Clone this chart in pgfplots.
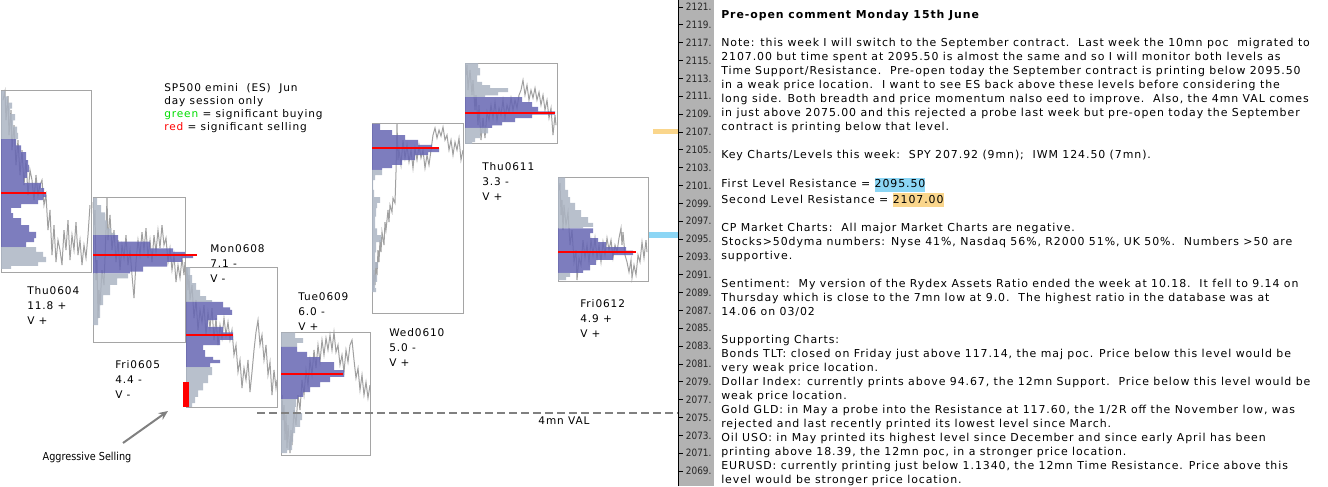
\documentclass[border=0pt]{standalone}
\usepackage{fontspec}
\setmainfont{DejaVu Sans}[LetterSpace=8.5]
\newfontfamily\plainfont{DejaVu Sans}[FakeStretch=0.88]
\usepackage{pgfplots}
\pgfplotsset{compat=1.18}
\usetikzlibrary{arrows.meta}

\definecolor{vablue}{RGB}{102,102,179}
\definecolor{profgray}{RGB}{172,181,195}
\definecolor{tracegray}{RGB}{160,160,160}
\definecolor{boxgray}{RGB}{165,165,165}
\definecolor{stripgray}{RGB}{178,178,178}
\definecolor{lvlorange}{RGB}{250,214,140}
\definecolor{lvlblue}{RGB}{140,214,245}
\definecolor{sigred}{RGB}{255,0,0}
\definecolor{siggreen}{RGB}{0,220,0}
\definecolor{valgray}{RGB}{128,128,128}

\newcommand\txt{\fontsize{8.2}{10.5}\selectfont}
\newcommand\lab{\fontsize{7.9}{11.25}\selectfont}
\newcommand\hl[2]{{\setlength\fboxsep{0pt}\colorbox{#1}{\rule[-2.9pt]{0pt}{10.5pt}#2}}}

\pgfplotsset{
  prof/.style={draw=none, fill=profgray, fill opacity=0.85, const plot mark right, mark=none},
  va/.style={draw=none, fill=vablue, fill opacity=0.85, const plot mark right, mark=none},
  trace/.style={tracegray, line width=0.75pt, mark=none},
  daybox/.style={boxgray, line width=0.75pt, mark=none},
  poc/.style={sigred, line width=1.1pt, mark=none},
}

\begin{document}
\begin{tikzpicture}
\useasboundingbox (0,0) rectangle (996pt,364.5pt);
% price scale strip
\fill[stripgray] (508.5pt,0) rectangle (535.5pt,364.5pt);

\begin{axis}[
  at={(0,0)}, anchor=south west,
  x=0.75pt, y=6.692pt, scale only axis,
  xmin=0, xmax=678, ymin=2067.32, ymax=2121.78,
  enlargelimits=false, clip=false,
  axis x line=none, axis y line*=right,
  axis line style={black, line width=0.75pt},
  xtick=\empty,
  ytick={2069,2071,...,2121},
  minor y tick num=3,
  ytick pos=right, yticklabel pos=right,
  tick align=outside,
  major tick length=3.75pt, minor tick length=2.25pt,
  tick style={black, line width=0.6pt},
  /pgf/number format/assume math mode=true,
  yticklabel={\pgfmathprintnumber[fixed,precision=0,1000 sep={}]{\tick}.},
  yticklabel style={font=\plainfont\fontsize{7.6}{8}\selectfont, text=black!85, anchor=west, inner sep=0pt, xshift=2pt},
]

% day boxes
\addplot[daybox] coordinates {(1,2091.2) (91,2091.2) (91,2111.7) (1,2111.7)} -- cycle;
\addplot[daybox] coordinates {(93,2083.45) (185,2083.45) (185,2099.7) (93,2099.7)} -- cycle;
\addplot[daybox] coordinates {(186,2076.15) (277,2076.15) (277,2091.85) (186,2091.85)} -- cycle;
\addplot[daybox] coordinates {(281,2070.7) (370,2070.7) (370,2084.55) (281,2084.55)} -- cycle;
\addplot[daybox] coordinates {(372,2086.7) (463,2086.7) (463,2107.9) (372,2107.9)} -- cycle;
\addplot[daybox] coordinates {(465,2105.65) (557,2105.65) (557,2114.7) (465,2114.7)} -- cycle;
\addplot[daybox] coordinates {(558,2090.2) (648,2090.2) (648,2101.95) (558,2101.95)} -- cycle;

% price traces
\addplot[trace] coordinates {(3,2110.57) (5,2111.58) (6,2108.33) (8,2111.02) (9,2106.65) (11,2109.45) (12,2104.97) (14,2107.77) (16,2103.29) (18,2106.09) (20,2102.17) (22,2104.97) (24,2101.05) (26,2103.85) (28,2099.93) (30,2102.73) (32,2101.61) (34,2099.37) (36,2102.17) (38,2099.93) (40,2101.05) (42,2101.61) (44,2098.81) (46,2099.93) (48,2096.00) (50,2098.25) (52,2093.20) (54,2096.56) (56,2092.42) (58,2094.88) (60,2093.76) (62,2092.08) (64,2096.00) (66,2093.76) (68,2097.12) (70,2092.64) (72,2095.44) (74,2093.76) (76,2096.90) (78,2093.20) (80,2094.88) (82,2092.08) (84,2094.32) (86,2092.87) (88,2095.44) (90,2098.81)};
\addplot[trace] coordinates {(93,2099.14) (94,2096.56) (95,2098.25) (96,2090.40) (97,2092.64) (98,2086.14) (99,2089.28) (100,2087.60) (102,2091.52) (104,2089.84) (106,2096.00) (107,2099.59) (108,2094.88) (110,2097.69) (112,2093.76) (114,2096.00) (116,2092.42) (118,2094.88) (120,2091.52) (122,2094.32) (124,2092.87) (126,2095.44) (128,2092.08) (130,2093.76) (132,2090.96) (134,2088.38) (136,2092.42) (138,2094.88) (140,2093.20) (142,2095.78) (144,2093.76) (146,2096.23) (148,2092.87) (150,2094.88) (152,2092.42) (154,2095.44) (156,2093.54) (158,2096.00) (160,2093.99) (162,2096.56) (164,2094.32) (166,2095.11) (168,2092.42) (170,2093.99) (172,2091.52) (174,2093.20) (176,2090.18) (178,2092.08) (180,2090.63) (182,2092.87) (184,2090.96) (185,2092.42)};
\addplot[trace] coordinates {(187,2091.75) (188,2089.28) (189,2090.96) (190,2088.16) (192,2089.84) (194,2086.14) (196,2088.16) (198,2084.80) (200,2087.04) (202,2085.69) (204,2087.60) (206,2084.24) (208,2086.81) (210,2085.02) (212,2087.26) (214,2083.68) (216,2086.14) (218,2083.12) (220,2085.36) (222,2083.90) (224,2086.14) (226,2084.24) (228,2085.69) (230,2083.68) (232,2084.80) (234,2082.00) (236,2083.12) (238,2080.09) (240,2081.44) (242,2078.30) (244,2080.54) (246,2079.20) (248,2081.44) (250,2077.85) (252,2080.09) (254,2082.56) (256,2084.57) (258,2085.92) (260,2083.12) (262,2084.24) (264,2081.44) (266,2083.12) (268,2079.76) (270,2081.21) (272,2077.51) (274,2080.32) (276,2078.30) (277,2079.20)};
\addplot[trace] coordinates {(282,2077.51) (283,2074.71) (284,2076.39) (285,2072.47) (286,2075.27) (287,2071.57) (288,2074.15) (290,2071.01) (291,2073.59) (292,2071.91) (294,2075.83) (296,2074.15) (298,2077.51) (300,2075.83) (302,2079.20) (304,2077.51) (306,2080.32) (308,2078.63) (310,2081.44) (312,2079.76) (314,2082.56) (316,2080.54) (318,2083.12) (320,2081.21) (322,2083.68) (324,2082.00) (326,2083.90) (328,2082.56) (330,2084.24) (332,2082.56) (334,2084.57) (336,2082.33) (338,2083.12) (340,2080.87) (342,2082.00) (344,2080.09) (346,2082.56) (348,2081.21) (350,2083.12) (352,2083.68) (354,2081.44) (356,2079.42) (358,2080.54) (360,2078.07) (362,2079.76) (364,2077.51) (366,2078.97) (368,2077.18) (370,2078.63)};
\addplot[trace] coordinates {(373,2089.28) (374,2091.52) (375,2089.84) (376,2092.42) (377,2090.96) (378,2093.76) (379,2092.42) (380,2094.88) (381,2093.54) (382,2095.78) (384,2094.32) (385,2096.90) (386,2096.00) (388,2098.25) (389,2096.90) (390,2098.81) (392,2098.02) (393,2099.59) (395,2099.03) (396,2102.50) (397,2107.88) (398,2103.85) (399,2104.97) (401,2103.29) (403,2106.09) (405,2104.07) (407,2105.53) (409,2103.62) (411,2104.97) (413,2102.95) (415,2105.19) (417,2103.85) (419,2105.53) (421,2104.07) (423,2104.97) (425,2102.95) (427,2104.41) (429,2103.29) (431,2104.97) (433,2106.65) (435,2107.44) (437,2106.31) (439,2107.21) (441,2106.54) (443,2107.55) (445,2106.09) (447,2106.65) (449,2104.97) (451,2106.09) (453,2104.41) (455,2105.87) (457,2104.97) (459,2106.31) (461,2103.85) (463,2104.97)};
\addplot[trace] coordinates {(466,2113.37) (467,2114.50) (468,2111.69) (470,2113.94) (472,2111.13) (473,2112.81) (475,2109.45) (476,2111.13) (478,2107.77) (479,2110.01) (481,2106.09) (483,2108.56) (485,2106.31) (487,2109.23) (489,2108.33) (491,2110.01) (493,2108.56) (495,2110.35) (497,2108.33) (499,2109.68) (501,2108.89) (503,2110.57) (505,2108.56) (507,2110.01) (509,2109.23) (511,2110.80) (513,2109.45) (515,2110.57) (517,2109.68) (519,2111.13) (521,2111.69) (523,2112.81) (525,2111.13) (527,2112.25) (529,2110.57) (531,2111.69) (533,2110.80) (535,2111.92) (537,2110.57) (539,2111.47) (541,2110.01) (543,2111.13) (545,2109.45) (547,2110.57) (549,2108.56) (551,2109.68) (553,2106.65) (555,2108.89) (556,2107.77)};
\addplot[trace] coordinates {(559,2100.49) (560,2101.27) (561,2097.69) (562,2099.37) (563,2096.00) (564,2098.81) (566,2096.56) (568,2098.02) (570,2094.32) (572,2096.00) (574,2092.42) (576,2093.76) (577,2090.40) (579,2092.87) (581,2092.08) (583,2094.88) (585,2092.87) (587,2094.32) (589,2092.42) (591,2094.88) (593,2093.20) (595,2095.11) (597,2092.87) (599,2094.32) (601,2092.42) (603,2094.66) (605,2093.20) (607,2095.11) (609,2093.76) (611,2094.88) (613,2092.87) (615,2094.32) (617,2093.54) (619,2095.11) (621,2096.23) (622,2094.32) (623,2095.78) (625,2093.20) (627,2092.42) (629,2091.30) (631,2092.64) (632,2090.63) (634,2092.08) (636,2090.96) (638,2093.20) (640,2092.42) (642,2094.66) (644,2092.87) (646,2094.88) (647,2093.54)};

% volume profiles: gray outside the value area, blue inside
\addplot[prof] coordinates {(1,2111.6) (5,2111.6) (8,2111.0) (12,2110.3) (10,2109.6) (15,2109.0) (13,2108.3) (17,2107.6) (18,2106.9) (1,2106.2)} -- cycle;
\addplot[va] coordinates {(1,2106.2) (16,2106.2) (21,2105.5) (26,2104.75) (28,2103.85) (29,2103.3) (27,2102.5) (24,2101.85) (41,2101.3) (44,2100.7) (46,2100.15) (43,2099.7) (38,2099.35) (21,2098.9) (11,2098.5) (13,2097.9) (21,2097.35) (29,2096.55) (36,2095.8) (34,2095.1) (26,2094.65) (1,2094.1)} -- cycle;
\addplot[prof] coordinates {(1,2094.1) (36,2094.1) (43,2093.55) (46,2093.0) (38,2092.4) (11,2092.0) (1,2091.65)} -- cycle;

\addplot[prof] coordinates {(93,2099.6) (97,2099.6) (101,2098.8) (105,2098.0) (107,2097.1) (111,2096.2) (115,2095.7) (93,2095.45)} -- cycle;
\addplot[va] coordinates {(93,2095.45) (118,2095.45) (150,2094.7) (173,2093.95) (185,2093.55) (193,2093.2) (182,2092.85) (167,2092.45) (143,2091.9) (130,2091.35) (93,2091.15)} -- cycle;
\addplot[prof] coordinates {(93,2091.15) (128,2091.15) (117,2090.6) (110,2089.85) (103,2088.7) (100,2087.6) (98,2086.15) (93,2085.35)} -- cycle;

\addplot[prof] coordinates {(186,2091.85) (190,2091.85) (192,2090.95) (196,2090.05) (200,2089.3) (206,2088.6) (212,2088.15) (186,2087.95)} -- cycle;
\addplot[va] coordinates {(186,2087.95) (223,2087.95) (230,2087.35) (232,2087.05) (217,2086.5) (208,2085.9) (223,2085.15) (233,2084.55) (220,2083.7) (203,2083.1) (205,2082.55) (213,2081.8) (220,2081.45) (210,2081.1) (186,2080.65)} -- cycle;
\addplot[prof] coordinates {(186,2080.65) (212,2080.65) (208,2079.75) (203,2078.85) (198,2078.05) (195,2077.3) (192,2076.6) (186,2076.15)} -- cycle;

\addplot[prof] coordinates {(281,2084.55) (295,2084.55) (303,2083.9) (297,2083.35) (281,2082.9)} -- cycle;
\addplot[va] coordinates {(281,2082.9) (297,2082.9) (307,2082.35) (320,2081.75) (334,2081.2) (344,2080.3) (330,2079.55) (320,2078.95) (310,2078.4) (303,2077.85) (298,2077.3) (281,2077.05)} -- cycle;
\addplot[prof] coordinates {(281,2077.05) (296,2077.05) (295,2076.2) (302,2075.5) (300,2074.7) (295,2073.95) (293,2073.25) (292,2072.25) (287,2071.35) (281,2071.0)} -- cycle;

\addplot[va] coordinates {(372,2107.9) (380,2107.9) (392,2107.2) (405,2106.65) (418,2106.1) (432,2105.55) (439,2105.25) (428,2104.75) (415,2104.4) (402,2103.85) (392,2103.3) (382,2102.95) (372,2102.75)} -- cycle;
\addplot[prof] coordinates {(372,2102.75) (382,2102.75) (375,2102.15) (373,2101.6) (374,2100.5) (380,2099.7) (377,2099.05) (376,2098.45) (375,2097.5) (377,2096.2) (381,2095.45) (376,2094.65) (375,2093.5) (378,2092.4) (375,2091.75) (377,2091.0) (375,2090.2) (376,2089.5) (372,2089.05)} -- cycle;

\addplot[prof] coordinates {(465,2114.7) (478,2114.7) (480,2114.15) (477,2113.35) (482,2112.6) (490,2112.25) (508,2111.9) (498,2111.45) (485,2111.1) (465,2110.9)} -- cycle;
\addplot[va] coordinates {(465,2110.9) (522,2110.9) (532,2110.35) (538,2109.8) (555,2109.3) (532,2108.95) (515,2108.55) (502,2108.1) (492,2107.75) (465,2107.45)} -- cycle;
\addplot[prof] coordinates {(465,2107.45) (488,2107.45) (480,2106.85) (475,2106.3) (472,2105.85) (465,2105.65)} -- cycle;

\addplot[prof] coordinates {(558,2101.9) (565,2101.9) (568,2100.5) (570,2099.7) (575,2099.05) (581,2098.25) (588,2097.45) (593,2096.8) (583,2096.35) (558,2096.2)} -- cycle;
\addplot[va] coordinates {(558,2096.2) (593,2096.2) (590,2095.65) (598,2095.1) (606,2094.65) (626,2094.1) (633,2093.7) (613,2093.2) (596,2092.65) (590,2092.1) (583,2091.5) (558,2091.2)} -- cycle;
\addplot[prof] coordinates {(558,2091.2) (570,2091.2) (566,2090.75) (558,2090.4)} -- cycle;

% points of control
\addplot[poc] coordinates {(1,2100.15) (46,2100.15)};
\addplot[poc] coordinates {(93,2093.2) (197,2093.2)};
\addplot[poc] coordinates {(186,2084.24) (233,2084.24)};
\addplot[poc] coordinates {(281,2079.87) (343,2079.87)};
\addplot[poc] coordinates {(372,2105.19) (439,2105.19)};
\addplot[poc] coordinates {(465,2109.12) (555,2109.12)};
\addplot[poc] coordinates {(558,2093.54) (636,2093.54)};

% significant selling marker
\addplot[draw=none, fill=sigred] coordinates {(183,2078.95) (189,2078.95) (189,2076.15) (183,2076.15)} -- cycle;

% 4mn VAL
\addplot[valgray, line width=1.5pt, dash pattern=on 6pt off 3pt] coordinates {(257,2075.5) (678,2075.5)};

% resistance levels on the price scale
\addplot[draw=none, fill=lvlorange] coordinates {(653,2107.32) (678,2107.32) (678,2106.76) (653,2106.76)} -- cycle;
\addplot[draw=none, fill=lvlblue] coordinates {(649,2095.78) (678,2095.78) (678,2095.11) (649,2095.11)} -- cycle;
\end{axis}

\begin{scope}[shift={(0pt,364.5pt)}, x=0.75pt, y=-0.75pt]
\node[anchor=north west, inner sep=0, align=left, font=\fontsize{7.9}{9.75}\selectfont] at (164,81.9)
  {\strut SP500 emini\ \ (ES)\ \ Jun\\\strut day session only\\\strut\textcolor{siggreen}{green} = significant buying\\\strut\textcolor{sigred}{red} = significant selling};

\node[anchor=north west, inner sep=0, align=left, font=\lab] at (27,283.5) {\strut Thu0604\\\strut 11.8 +\\\strut V +};
\node[anchor=north west, inner sep=0, align=left, font=\lab] at (115,357.5) {\strut Fri0605\\\strut 4.4 -\\\strut V -};
\node[anchor=north west, inner sep=0, align=left, font=\lab] at (210,241.5) {\strut Mon0608\\\strut 7.1 -\\\strut V -};
\node[anchor=north west, inner sep=0, align=left, font=\lab] at (298,289.5) {\strut Tue0609\\\strut 6.0 -\\\strut V +};
\node[anchor=north west, inner sep=0, align=left, font=\lab] at (389,325.5) {\strut Wed0610\\\strut 5.0 -\\\strut V +};
\node[anchor=north west, inner sep=0, align=left, font=\lab] at (482,159.5) {\strut Thu0611\\\strut 3.3 -\\\strut V +};
\node[anchor=north west, inner sep=0, align=left, font=\lab] at (580,296.5) {\strut Fri0612\\\strut 4.9 +\\\strut V +};

\draw[valgray, line width=1.5pt, -{Stealth[length=7pt, width=6pt]}] (123,443) -- (168,411);
\node[font=\plainfont\fontsize{8.25}{10}\selectfont, inner sep=0] at (87,457) {Aggressive Selling};
\node[font=\lab, inner sep=0] at (564,421) {4mn VAL};

\node[anchor=north west, inner sep=0, align=left, font=\txt] at (721,8.2) {%
\strut\textbf{Pre-open comment Monday 15th June}\\
\strut\\
\strut Note: this week I will switch to the September contract.\ \ Last week the 10mn poc\ \ migrated to\\
\strut 2107.00 but time spent at 2095.50 is almost the same and so I will monitor both levels as\\
\strut Time Support/Resistance.\ \ Pre-open today the September contract is printing below 2095.50\\
\strut in a weak price location.\ \ I want to see ES back above these levels before considering the\\
\strut long side. Both breadth and price momentum nalso eed to improve.\ \ Also, the 4mn VAL comes\\
\strut in just above 2075.00 and this rejected a probe last week but pre-open today the September\\
\strut contract is printing below that level.\\
\strut\\
\strut Key Charts/Levels this week:\ \ SPY 207.92 (9mn);\ \ IWM 124.50 (7mn).\\
\strut\\
\strut First Level Resistance = \hl{lvlblue}{2095.50}\\
\strut Second Level Resistance = \hl{lvlorange}{2107.00}\\
\strut\\
\strut CP Market Charts:\ \ All major Market Charts are negative.\\
\strut Stocks>50dyma numbers: Nyse 41\%, Nasdaq 56\%, R2000 51\%, UK 50\%.\ \ Numbers >50 are\\
\strut supportive.\\
\strut\\
\strut Sentiment:\ \ My version of the Rydex Assets Ratio ended the week at 10.18.\ \ It fell to 9.14 on\\
\strut Thursday which is close to the 7mn low at 9.0.\ \ The highest ratio in the database was at\\
\strut 14.06 on 03/02\\
\strut\\
\strut Supporting Charts:\\
\strut Bonds TLT: closed on Friday just above 117.14, the maj poc. Price below this level would be\\
\strut very weak price location.\\
\strut Dollar Index: currently prints above 94.67, the 12mn Support.\ \ Price below this level would be\\
\strut weak price location.\\
\strut Gold GLD: in May a probe into the Resistance at 117.60, the 1/2R off the November low, was\\
\strut rejected and last recently printed its lowest level since March.\\
\strut Oil USO: in May printed its highest level since December and since early April has been\\
\strut printing above 18.39, the 12mn poc, in a stronger price location.\\
\strut EURUSD: currently printing just below 1.1340, the 12mn Time Resistance. Price above this\\
\strut level would be stronger price location.};
\end{scope}
\end{tikzpicture}
\end{document}
